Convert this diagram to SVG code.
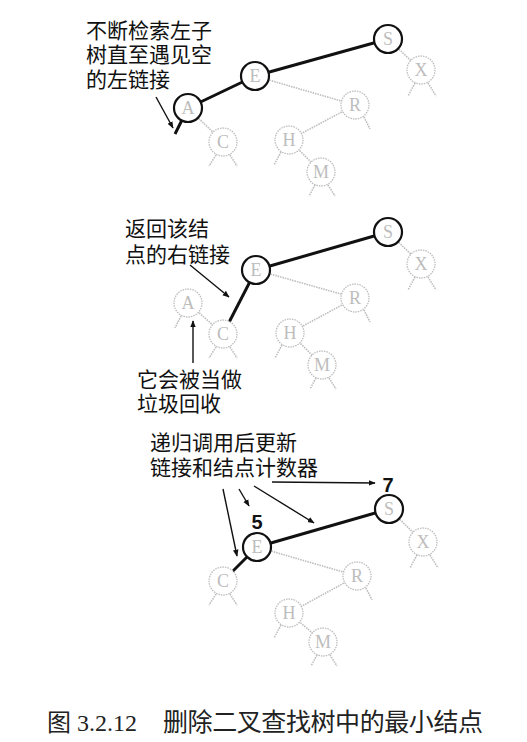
<svg xmlns="http://www.w3.org/2000/svg" width="527" height="742" viewBox="0 0 527 742">
<defs>
<style>
.on{fill:#fff;stroke:#111;stroke-width:2.2}
.off{fill:#fff;stroke:#bdbdbd;stroke-width:1.3;stroke-dasharray:1.5 1}
.lt{font-family:"Liberation Serif",serif;font-size:18px;fill:#bdbdbd;text-anchor:middle;dominant-baseline:central}
.g{stroke:#bdbdbd;stroke-width:1.6;stroke-dasharray:1.5 1;fill:none}
.b{stroke:#111;stroke-width:3;fill:none}
.ar{stroke:#111;stroke-width:1.4;fill:none;marker-end:url(#ah)}
.cn{font-family:"Noto Sans CJK SC",sans-serif;font-size:21px;fill:#111}
.num{font-family:"Liberation Sans",sans-serif;font-size:20px;font-weight:bold;fill:#111;text-anchor:middle}
.cap{font-family:"Liberation Serif","Noto Sans CJK SC",serif;font-size:24px;fill:#222}
.cap2{font-family:"Noto Sans CJK SC",sans-serif;font-size:25px;fill:#222}
</style>
<marker id="ah" viewBox="0 0 10 10" refX="9" refY="5" markerWidth="7" markerHeight="7" orient="auto" markerUnits="userSpaceOnUse"><path d="M0,1 L10,5 L0,9 Z" fill="#111"/></marker>
</defs>
<rect width="527" height="742" fill="#fff"/>

<g id="connectors">
<!-- panel 1 -->
<line class="g" x1="388" y1="39" x2="421" y2="70"/>
<line class="g" x1="415" y1="83" x2="408" y2="96"/>
<line class="g" x1="428" y1="83" x2="436" y2="96"/>
<line class="g" x1="255" y1="76" x2="355" y2="105"/>
<line class="g" x1="355" y1="105" x2="289" y2="140"/>
<line class="g" x1="364" y1="117" x2="370" y2="129"/>
<line class="g" x1="289" y1="140" x2="321" y2="172"/>
<line class="g" x1="281" y1="152" x2="274" y2="165"/>
<line class="g" x1="315" y1="185" x2="309" y2="196"/>
<line class="g" x1="328" y1="185" x2="335" y2="196"/>
<line class="g" x1="188" y1="108" x2="223" y2="142"/>
<line class="g" x1="216" y1="155" x2="209" y2="166"/>
<line class="g" x1="230" y1="155" x2="237" y2="166"/>
<line class="b" x1="388" y1="39" x2="255" y2="76"/>
<line class="b" x1="255" y1="76" x2="188" y2="108"/>
<line class="b" x1="182" y1="120" x2="175" y2="134"/>
<line class="ar" x1="156" y1="97" x2="173" y2="128"/>
<!-- panel 2 -->
<line class="g" x1="388" y1="232" x2="421" y2="264"/>
<line class="g" x1="415" y1="277" x2="408" y2="290"/>
<line class="g" x1="428" y1="277" x2="436" y2="290"/>
<line class="g" x1="256" y1="270" x2="355" y2="298"/>
<line class="g" x1="355" y1="298" x2="290" y2="333"/>
<line class="g" x1="364" y1="310" x2="370" y2="322"/>
<line class="g" x1="290" y1="333" x2="322" y2="365"/>
<line class="g" x1="282" y1="345" x2="275" y2="358"/>
<line class="g" x1="316" y1="378" x2="310" y2="389"/>
<line class="g" x1="329" y1="378" x2="336" y2="389"/>
<line class="g" x1="188" y1="303" x2="223" y2="334"/>
<line class="g" x1="181" y1="316" x2="175" y2="328"/>
<line class="g" x1="216" y1="347" x2="209" y2="358"/>
<line class="g" x1="230" y1="347" x2="237" y2="358"/>
<line class="b" x1="388" y1="232" x2="256" y2="270"/>
<line class="b" x1="256" y1="270" x2="223" y2="334"/>
<line class="ar" x1="190" y1="265" x2="229" y2="297"/>
<line class="ar" x1="193" y1="363" x2="193" y2="321"/>
<!-- panel 3 -->
<line class="g" x1="389" y1="509" x2="423" y2="542"/>
<line class="g" x1="417" y1="555" x2="410" y2="568"/>
<line class="g" x1="430" y1="555" x2="438" y2="568"/>
<line class="g" x1="257" y1="547" x2="357" y2="576"/>
<line class="g" x1="357" y1="576" x2="289" y2="613"/>
<line class="g" x1="366" y1="588" x2="372" y2="600"/>
<line class="g" x1="289" y1="613" x2="323" y2="642"/>
<line class="g" x1="281" y1="625" x2="274" y2="638"/>
<line class="g" x1="317" y1="655" x2="311" y2="666"/>
<line class="g" x1="330" y1="655" x2="337" y2="666"/>
<line class="g" x1="216" y1="594" x2="209" y2="605"/>
<line class="g" x1="230" y1="594" x2="237" y2="605"/>
<line class="b" x1="389" y1="509" x2="257" y2="547"/>
<line class="b" x1="257" y1="547" x2="223" y2="581"/>
<line class="ar" x1="223" y1="489" x2="237" y2="556"/>
<line class="ar" x1="239" y1="489" x2="249" y2="506"/>
<line class="ar" x1="254" y1="486" x2="314" y2="523"/>
<line class="ar" x1="272" y1="482" x2="375" y2="483"/>
</g>

<g id="p1-S"><circle class="on" cx="388" cy="39" r="14"/><text class="lt" x="388" y="39">S</text></g>
<g id="p1-X"><circle class="off" cx="421" cy="70" r="14"/><text class="lt" x="421" y="70">X</text></g>
<g id="p1-E"><circle class="on" cx="255" cy="76" r="14"/><text class="lt" x="255" y="76">E</text></g>
<g id="p1-R"><circle class="off" cx="355" cy="105" r="14"/><text class="lt" x="355" y="105">R</text></g>
<g id="p1-A"><circle class="on" cx="188" cy="108" r="14"/><text class="lt" x="188" y="108">A</text></g>
<g id="p1-C"><circle class="off" cx="223" cy="142" r="14"/><text class="lt" x="223" y="142">C</text></g>
<g id="p1-H"><circle class="off" cx="289" cy="140" r="14"/><text class="lt" x="289" y="140">H</text></g>
<g id="p1-M"><circle class="off" cx="321" cy="172" r="14"/><text class="lt" x="321" y="172">M</text></g>
<g id="p1-label"><text class="cn" x="86" y="38">不断检索左子</text><text class="cn" x="86" y="62">树直至遇见空</text><text class="cn" x="86" y="87">的左链接</text></g>

<g id="p2-S"><circle class="on" cx="388" cy="232" r="14"/><text class="lt" x="388" y="232">S</text></g>
<g id="p2-X"><circle class="off" cx="421" cy="264" r="14"/><text class="lt" x="421" y="264">X</text></g>
<g id="p2-E"><circle class="on" cx="256" cy="270" r="14"/><text class="lt" x="256" y="270">E</text></g>
<g id="p2-R"><circle class="off" cx="355" cy="298" r="14"/><text class="lt" x="355" y="298">R</text></g>
<g id="p2-A"><circle class="off" cx="188" cy="303" r="14"/><text class="lt" x="188" y="303">A</text></g>
<g id="p2-C"><circle class="off" cx="223" cy="334" r="14"/><text class="lt" x="223" y="334">C</text></g>
<g id="p2-H"><circle class="off" cx="290" cy="333" r="14"/><text class="lt" x="290" y="333">H</text></g>
<g id="p2-M"><circle class="off" cx="322" cy="365" r="14"/><text class="lt" x="322" y="365">M</text></g>
<g id="p2-label1"><text class="cn" x="125" y="236">返回该结</text><text class="cn" x="125" y="262">点的右链接</text></g>
<g id="p2-label2"><text class="cn" x="137" y="387">它会被当做</text><text class="cn" x="137" y="411">垃圾回收</text></g>

<g id="p3-S"><circle class="on" cx="389" cy="509" r="14"/><text class="lt" x="389" y="509">S</text></g>
<g id="p3-X"><circle class="off" cx="423" cy="542" r="14"/><text class="lt" x="423" y="542">X</text></g>
<g id="p3-E"><circle class="on" cx="257" cy="547" r="14"/><text class="lt" x="257" y="547">E</text></g>
<g id="p3-R"><circle class="off" cx="357" cy="576" r="14"/><text class="lt" x="357" y="576">R</text></g>
<g id="p3-C"><circle class="off" cx="223" cy="581" r="14"/><text class="lt" x="223" y="581">C</text></g>
<g id="p3-H"><circle class="off" cx="289" cy="613" r="14"/><text class="lt" x="289" y="613">H</text></g>
<g id="p3-M"><circle class="off" cx="323" cy="642" r="14"/><text class="lt" x="323" y="642">M</text></g>
<g id="p3-label"><text class="cn" x="150" y="450">递归调用后更新</text><text class="cn" x="150" y="475">链接和结点计数器</text></g>
<g id="p3-counts"><text class="num" x="257" y="529">5</text><text class="num" x="388" y="492">7</text></g>

<g id="caption"><text class="cap" x="47" y="731">图 3.2.12</text><text class="cap2" x="163" y="731" textLength="320" lengthAdjust="spacing">删除二叉查找树中的最小结点</text></g>
</svg>
